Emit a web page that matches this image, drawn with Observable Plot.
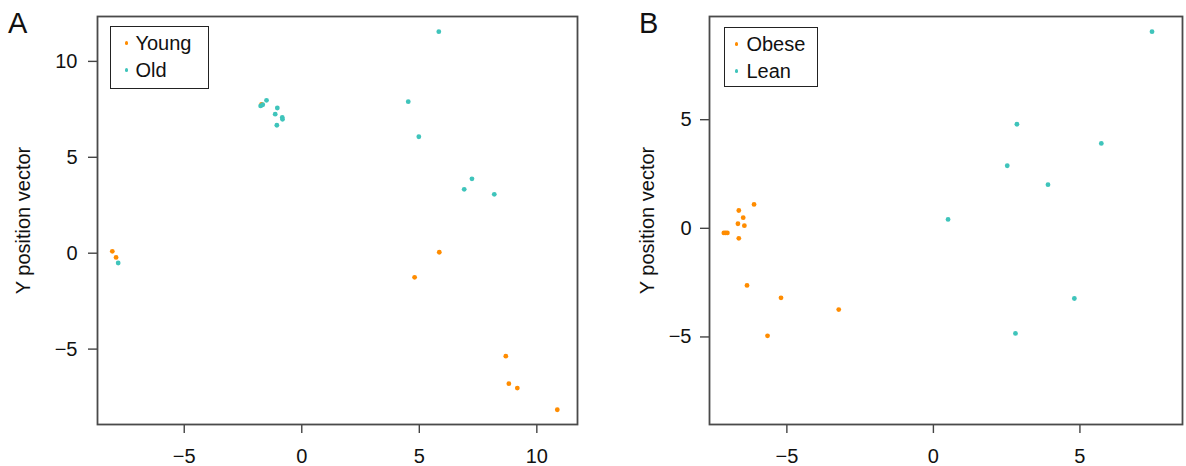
<!DOCTYPE html>
<html>
<head>
<meta charset="utf-8">
<script src="https://cdn.jsdelivr.net/npm/d3@7"></script>
<script src="https://cdn.jsdelivr.net/npm/@observablehq/plot@0.6"></script>
<style>
  html, body { margin: 0; padding: 0; background: #fff; }
  body { font-family: "Liberation Sans", Arial, Helvetica, sans-serif; }
  #wrap { position: relative; width: 1186px; height: 466px; overflow: hidden; }
  .panel { position: absolute; top: 0; }
  .plabel { position: absolute; font-size: 29px; line-height: 29px; color: #111; }
  .legend { position: absolute; border: 1.6px solid #222; box-sizing: border-box; font-size: 20px; color: #111; padding-top: 3px; background: #fff; }
  .legend .row { position: relative; height: 27px; line-height: 27px; white-space: nowrap; }
  .legend .dot { position: absolute; width: 3.8px; height: 3.8px; border-radius: 50%; top: 11px; }
  .legend .txt { position: absolute; top: 0; }
</style>
</head>
<body>
<div id="wrap"></div>
<script>
// ---------- Data ----------
const panelLabels = ["A", "B"];
const yAxisTitle = "Y position vector";
const seriesColors = ["#ff8c00", "#3fc4bb"];

// Panel A
const groupsA = ["Young", "Old"];
const youngX = [-8.06, -7.90, 5.85, 4.80, 8.68, 8.81, 9.17, 10.87, -1.71];
const youngY = [0.10, -0.22, 0.05, -1.26, -5.37, -6.80, -7.03, -8.16, 7.76];
const oldX = [-7.81, 5.83, -1.75, -1.66, -1.50, -1.04, -1.13, -0.83, -0.82, -1.06, 4.53, 4.98, 7.24, 6.91, 8.19];
const oldY = [-0.51, 11.55, 7.68, 7.74, 7.97, 7.57, 7.25, 7.08, 6.98, 6.67, 7.90, 6.07, 3.88, 3.33, 3.07];
const xTicksA = [-5, 0, 5, 10];
const yTicksA = [-5, 0, 5, 10];

// Panel B
const groupsB = ["Obese", "Lean"];
const obeseX = [-7.15, -7.09, -7.03, -6.64, -6.49, -6.67, -6.45, -6.64, -6.12, -6.36, -5.20, -5.66, -3.23];
const obeseY = [-0.21, -0.21, -0.21, 0.82, 0.49, 0.21, 0.12, -0.46, 1.10, -2.63, -3.20, -4.95, -3.74];
const leanX = [7.46, 2.85, 5.73, 2.52, 3.91, 0.50, 4.81, 2.80];
const leanY = [9.05, 4.79, 3.91, 2.88, 2.01, 0.41, -3.23, -4.84];
const xTicksB = [-5, 0, 5];
const yTicksB = [-5, 0, 5];

// ---------- Build ----------
function rows(xs, ys, group) { return xs.map((x, i) => ({x, y: ys[i], group})); }

const panels = [
  {
    label: panelLabels[0], left: 0, width: 593,
    margins: {left: 97, right: 16, top: 16, bottom: 42},
    xDomain: [-8.69, 11.73], yDomain: [-8.93, 12.34],
    xTicks: xTicksA, yTicks: yTicksA, yTickPad: 11, yLabelOffset: 82,
    groups: groupsA,
    data: [...rows(youngX, youngY, groupsA[0]), ...rows(oldX, oldY, groupsA[1])],
    labelPos: {left: 8, top: 9},
    legend: {left: 110, top: 26, width: 99, height: 63, dot: 13.5, txt: 26}
  },
  {
    label: panelLabels[1], left: 593, width: 593,
    margins: {left: 116, right: 4, top: 16, bottom: 42},
    xDomain: [-7.64, 8.5], yDomain: [-9.03, 9.75],
    xTicks: xTicksB, yTicks: yTicksB, yTickPad: 9, yLabelOffset: 70,
    groups: groupsB,
    data: [...rows(obeseX, obeseY, groupsB[0]), ...rows(leanX, leanY, groupsB[1])],
    labelPos: {left: 639, top: 9},
    legend: {left: 724, top: 27, width: 94, height: 60, dot: 9.5, txt: 23}
  }
];

const wrap = document.getElementById("wrap");

for (const p of panels) {
  const chart = Plot.plot({
    width: p.width,
    height: 466,
    marginLeft: p.margins.left,
    marginRight: p.margins.right,
    marginTop: p.margins.top,
    marginBottom: p.margins.bottom,
    style: {fontFamily: '"Liberation Sans", Arial, Helvetica, sans-serif', fontSize: "20px", color: "#111", background: "transparent", overflow: "visible"},
    x: {domain: p.xDomain},
    y: {domain: p.yDomain},
    color: {domain: p.groups, range: seriesColors},
    marks: [
      Plot.axisX({ticks: p.xTicks, tickSize: 9, tickPadding: 15, label: null, stroke: "#444", strokeWidth: 1.4}),
      Plot.axisY({ticks: p.yTicks, tickSize: 9, tickPadding: p.yTickPad, label: yAxisTitle, labelAnchor: "center", labelArrow: false, labelOffset: p.yLabelOffset, stroke: "#444", strokeWidth: 1.4}),
      Plot.dot(p.data, {x: "x", y: "y", r: 2.4, fill: "group", stroke: null}),
      Plot.frame({stroke: "#4a4a4a", strokeWidth: 1.8})
    ]
  });
  const holder = document.createElement("div");
  holder.className = "panel";
  holder.style.left = p.left + "px";
  holder.appendChild(chart);
  wrap.appendChild(holder);

  const lab = document.createElement("div");
  lab.className = "plabel";
  lab.style.left = p.labelPos.left + "px";
  lab.style.top = p.labelPos.top + "px";
  lab.textContent = p.label;
  wrap.appendChild(lab);

  const lg = document.createElement("div");
  lg.className = "legend";
  lg.style.left = p.legend.left + "px";
  lg.style.top = p.legend.top + "px";
  lg.style.width = p.legend.width + "px";
  lg.style.height = p.legend.height + "px";
  p.groups.forEach((g, i) => {
    const row = document.createElement("div");
    row.className = "row";
    const dot = document.createElement("span");
    dot.className = "dot";
    dot.style.background = seriesColors[i];
    dot.style.left = p.legend.dot + "px";
    const txt = document.createElement("span");
    txt.className = "txt";
    txt.style.left = (p.legend.txt - 1.6) + "px";
    txt.textContent = g;
    row.appendChild(dot);
    row.appendChild(txt);
    lg.appendChild(row);
  });
  wrap.appendChild(lg);
}
</script>
</body>
</html>
